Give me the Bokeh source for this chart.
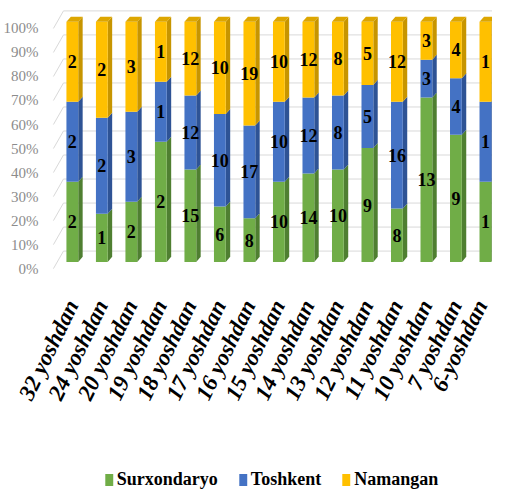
import math
from bokeh.plotting import figure
from bokeh.layouts import column
from bokeh.models import (ColumnDataSource, FixedTicker, Range1d, Legend, LegendItem,
                          NumeralTickFormatter, LinearAxis)
from bokeh.core.properties import value
from bokeh.embed import file_html
from bokeh.resources import INLINE

categories = ["32 yoshdan", "24 yoshdan", "20 yoshdan", "19 yoshdan", "18 yoshdan",
              "17 yoshdan", "16 yoshdan", "15 yoshdan", "14 yoshdan", "13 yoshdan",
              "12 yoshdan", "11 yoshdan", "10 yoshdan", "7 yoshdan", "6-yoshdan"]
surxondaryo = [2, 1, 2, 2, 15, 6, 8, 10, 14, 10, 9, 8, 13, 9, 1]
toshkent = [2, 2, 3, 1, 12, 10, 17, 10, 12, 8, 5, 16, 3, 4, 1]
namangan = [2, 2, 3, 1, 12, 10, 19, 10, 12, 8, 5, 12, 3, 4, 1]
series_names = ["Surxondaryo", "Toshkent", "Namangan"]
y_ticks = [0.0, 0.1, 0.2, 0.3, 0.4, 0.5, 0.6, 0.7, 0.8, 0.9, 1.0]

front_colors = ["#70AD47", "#4472C4", "#FFC000"]
side_colors = ["#4F7F31", "#2E5395", "#C79500"]
top_color = "#DDA600"

W = 0.40     # bar face width (category units)
DX = 0.15    # depth offset x
DY = 0.021   # depth offset y
WALL_DY = 0.045
LAB_DY = 0.028
X0, X1 = -0.74, 14.24
Y0, Y1 = -0.04, 1.055

SERIF = "'Liberation Serif', 'Times New Roman', Tinos, serif"
FONT = value(SERIF)

n = len(categories)
xs_idx = list(range(n))
series = [surxondaryo, toshkent, namangan]
totals = [a + b + c for a, b, c in zip(*series)]

p = figure(width=492, height=444, output_backend="svg", toolbar_location=None,
           x_range=Range1d(X0, X1), y_range=Range1d(Y0, Y1),
           min_border_left=44, min_border_right=0, min_border_top=8, min_border_bottom=173)
p.outline_line_color = None
p.xgrid.visible = False
p.ygrid.visible = False
p.yaxis.visible = False

# back wall gridlines and left diagonal stubs
p.segment(x0=[-0.30] * len(y_ticks), y0=[v + WALL_DY for v in y_ticks],
          x1=[X1] * len(y_ticks), y1=[v + WALL_DY for v in y_ticks],
          line_color="#D9D9D9", line_width=1)
p.segment(x0=[-0.64] * len(y_ticks), y0=[v - LAB_DY for v in y_ticks],
          x1=[-0.30] * len(y_ticks), y1=[v + WALL_DY for v in y_ticks],
          line_color="#D9D9D9", line_width=1)

# y axis on shifted range
p.extra_y_ranges = {"lab": Range1d(Y0 + LAB_DY, Y1 + LAB_DY)}
yax = LinearAxis(y_range_name="lab")
yax.ticker = FixedTicker(ticks=y_ticks)
yax.formatter = NumeralTickFormatter(format="0%")
yax.axis_line_color = None
yax.major_tick_line_color = None
yax.minor_tick_line_color = None
yax.major_label_text_font = SERIF
yax.major_label_text_font_size = "15px"
yax.major_label_text_color = "#8C8C8C"
yax.major_label_standoff = 6
p.add_layout(yax, "left")

# x axis
p.xaxis.ticker = FixedTicker(ticks=xs_idx)
p.xaxis.major_label_overrides = {i: c for i, c in enumerate(categories)}
p.xaxis.major_label_orientation = math.radians(64)
p.xaxis.axis_line_color = None
p.xaxis.major_tick_line_color = None
p.xaxis.minor_tick_line_color = None
p.xaxis.major_tick_out = 0
p.xaxis.major_label_text_font = SERIF
p.xaxis.major_label_text_font_style = "bold italic"
p.xaxis.major_label_text_font_size = "23px"
p.xaxis.major_label_text_color = "#000000"
p.xaxis.major_label_standoff = 30

share_cols = []
bottoms = [0.0] * n
for k, vals in enumerate(series):
    shares = [v / t for v, t in zip(vals, totals)]
    share_cols.append(shares)
    tops = [b + s for b, s in zip(bottoms, shares)]
    side_xs = [[i + W / 2, i + W / 2 + DX, i + W / 2 + DX, i + W / 2] for i in xs_idx]
    side_ys = [[b, b + DY, t + DY, t] for b, t in zip(bottoms, tops)]
    p.patches(xs=side_xs, ys=side_ys, fill_color=side_colors[k], line_color=None)
    src = ColumnDataSource(dict(x=xs_idx, bottom=bottoms, top=tops,
                                mid=[(b + t) / 2 for b, t in zip(bottoms, tops)],
                                label=[str(v) for v in vals]))
    p.vbar(x="x", bottom="bottom", top="top", width=W, source=src,
           fill_color=front_colors[k], line_color=None)
    p.text(x="x", y="mid", text="label", source=src, text_font=FONT,
           text_font_style="bold", text_font_size="18px", text_color="#000000",
           text_align="center", text_baseline="middle")
    bottoms = tops

top_xs = [[i - W / 2, i + W / 2, i + W / 2 + DX, i - W / 2 + DX] for i in xs_idx]
top_ys = [[b, b, b + DY, b + DY] for b in bottoms]
p.patches(xs=top_xs, ys=top_ys, fill_color=top_color, line_color=None)

# legend in its own strip below the chart (renderers hidden, swatches only)
lg = figure(width=492, height=52, output_backend="svg", toolbar_location=None,
            x_axis_type=None, y_axis_type=None, min_border=0,
            x_range=Range1d(X0, X1), y_range=Range1d(0, 1))
lg.outline_line_color = None
lg.xgrid.visible = False
lg.ygrid.visible = False
items = []
for k, name in enumerate(series_names):
    r = lg.vbar(x=xs_idx, top=share_cols[k], width=W, fill_color=front_colors[k],
                line_color=None, visible=False)
    items.append(LegendItem(label=name, renderers=[r]))
legend = Legend(items=items, orientation="horizontal", location="bottom_center",
                border_line_color=None, background_fill_alpha=0,
                label_text_font=SERIF, label_text_font_style="bold",
                label_text_font_size="18px", label_text_color="#000000",
                glyph_width=10, glyph_height=15, spacing=20, padding=0,
                label_standoff=3, margin=6)
lg.add_layout(legend)

layout = column(p, lg, spacing=0)
open("out.html", "w").write(file_html(layout, INLINE))
